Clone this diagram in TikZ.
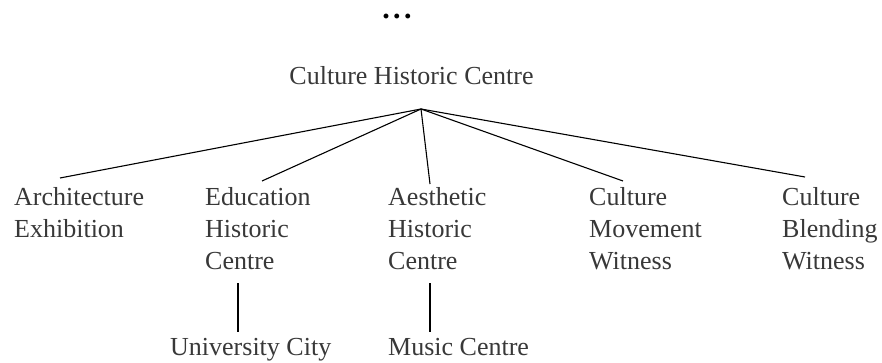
\documentclass[tikz,border=0pt]{standalone}
\usepackage{fontspec}
\setmainfont{Liberation Serif}
\begin{document}
\begin{tikzpicture}[x=1pt,y=-1pt,
  lbl/.style={inner sep=0pt,anchor=base west,align=left,text=black!78,
    font=\fontsize{26}{31.5}\selectfont},
  link/.style={draw=black,line width=1.1pt}]
\useasboundingbox (0,0) rectangle (882,363);
% ellipsis above the root
\node[inner sep=0pt,anchor=base,text=black,font=\fontsize{30}{30}\bfseries] (dots) at (397,18.5)
  {.\kern3.5pt.\kern3.5pt.};
% root
\node[lbl,anchor=base] (root) at (411.5,85) {Culture Historic Centre};
\coordinate (hub) at (421,109);
% first level (anchored at the baseline of the last line)
\node[lbl] (arch) at (14,237)  {Architecture\\Exhibition};
\node[lbl] (edu)  at (205,269) {Education\\Historic\\Centre};
\node[lbl] (aes)  at (388,269) {Aesthetic\\Historic\\Centre};
\node[lbl] (mov)  at (589,269) {Culture\\Movement\\Witness};
\node[lbl] (blend) at (782,269) {Culture\\Blending\\Witness};
% second level
\node[lbl] (uni)   at (170,355) {University City};
\node[lbl] (music) at (388,355) {Music Centre};
% connector ends above the first-level labels
\coordinate (archtop)  at (60,178);
\coordinate (edutop)   at (262,181);
\coordinate (aestop)   at (430,184);
\coordinate (movtop)   at (623,181);
\coordinate (blendtop) at (805,177);
\draw[link] (hub) -- (archtop);
\draw[link] (hub) -- (edutop);
\draw[link] (hub) -- (aestop);
\draw[link] (hub) -- (movtop);
\draw[link] (hub) -- (blendtop);
% vertical links to the second level
\coordinate (edubot)   at (238,283);
\coordinate (unitop)   at (238,332);
\coordinate (aesbot)   at (430,283);
\coordinate (musictop) at (430,332);
\draw[link] (edubot) -- (unitop);
\draw[link] (aesbot) -- (musictop);
\end{tikzpicture}
\end{document}
